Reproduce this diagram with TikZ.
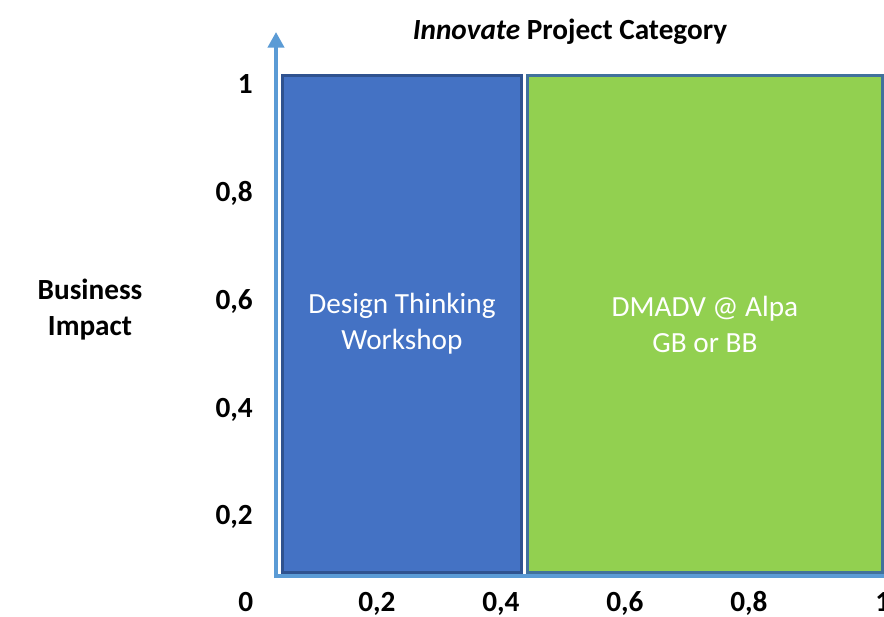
\documentclass[tikz,border=0pt]{standalone}
\usepackage{fontspec}
\setmainfont{Carlito}
\usetikzlibrary{arrows.meta}
\definecolor{axisblue}{HTML}{5B9BD5}
\definecolor{boxblue}{HTML}{4472C4}
\definecolor{edgeblue}{HTML}{2F528F}
\definecolor{boxgreen}{HTML}{92D050}
\definecolor{edgegreen}{HTML}{41719C}

\begin{document}
\begin{tikzpicture}[x=0.025cm,y=-0.025cm,
		lbl/.style={inner sep=0,font=\fontsize{20.8}{25.6}\selectfont\bfseries},
		region/.style={draw,line width=0.075cm,outer sep=0,inner sep=0,minimum height=497*0.025cm,
			text=white,align=center,font=\fontsize{20.8}{25.6}\selectfont},
		axis/.style={axisblue,line width=0.1cm}]
			\useasboundingbox(0,0)rectangle(884,617);
			% the two regions
			\node[region,fill=boxblue,draw=edgeblue,minimum width=239*0.025cm](dt)at(402,324){Design Thinking\\Workshop};
			\node[region,fill=boxgreen,draw=edgegreen,minimum width=355*0.025cm](dm)at(705,324){DMADV @ Alpa\\GB or BB};
			% axes
			\coordinate(O)at(276,576);
			\coordinate(ytop)at(276,32);
			\coordinate(xend)at(884,576);
			\draw[axis,-{Triangle[width=0.4cm,length=0.39cm]}]([yshift=-2*0.025cm]O)--(ytop);
			\draw[axis]([xshift=-2*0.025cm]O)--(xend);
			% labels
			\node[lbl,anchor=base](title)at(570,40){\textit{Innovate} Project Category};
			\node[lbl,align=center](yname)at(90,310){Business\\Impact};
			\node[lbl,anchor=base east](y10)at(253,94){1};
			\node[lbl,anchor=base east](y08)at(253,202){0,8};
			\node[lbl,anchor=base east](y06)at(253,310){0,6};
			\node[lbl,anchor=base east](y04)at(253,417){0,4};
			\node[lbl,anchor=base east](y02)at(253,524){0,2};
			\node[lbl,anchor=base west](x00)at(238,611){0};
			\node[lbl,anchor=base west](x02)at(358,611){0,2};
			\node[lbl,anchor=base west](x04)at(482,611){0,4};
			\node[lbl,anchor=base west](x06)at(606,611){0,6};
			\node[lbl,anchor=base west](x08)at(730,611){0,8};
			\node[lbl,anchor=base west](x10)at(875,611){1};
		\end{tikzpicture}
\end{document}
